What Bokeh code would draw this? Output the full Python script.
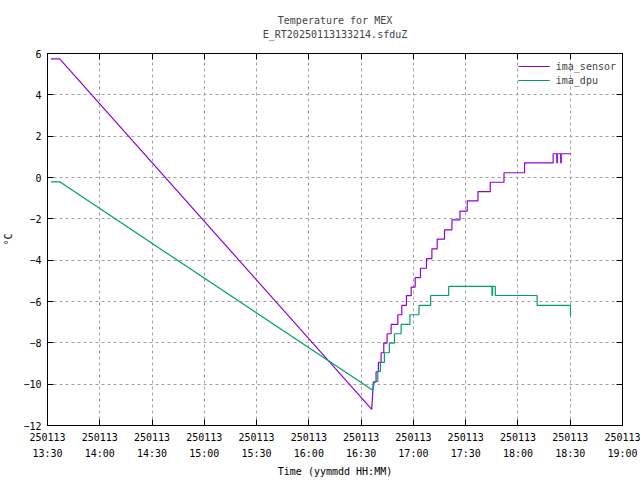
import pandas as pd
from bokeh.plotting import figure
from bokeh.models import (FixedTicker, DatetimeTickFormatter, Range1d, Title,
                          DatetimeAxis, LinearAxis, Legend, LegendItem,
                          CustomLabelingPolicy)
from bokeh.embed import file_html
from bokeh.resources import INLINE

DAY = "2025-01-13 "

# ima_sensor: first N_LINEAR points joined by straight lines, the rest are steps
sensor_times = ["13:32:00", "13:37:00", "16:36:06", "16:37:00", "16:38:34",
                "16:39:54", "16:41:27", "16:43:00", "16:44:54", "16:47:12",
                "16:51:03", "16:53:21", "16:56:00", "16:58:42", "17:01:00",
                "17:04:03", "17:07:30", "17:10:36", "17:13:39", "17:17:51",
                "17:22:06", "17:26:42", "17:30:54", "17:37:03", "17:44:06",
                "17:52:00", "18:03:48", "18:20:12", "18:22:18", "18:22:36",
                "18:24:32", "18:24:50"]
sensor_values = [5.74, 5.74, -11.22, -9.90, -9.40,
                 -8.95, -8.48, -8.01, -7.56, -7.11,
                 -6.64, -6.19, -5.72, -5.30, -4.84,
                 -4.39, -3.93, -3.45, -2.98, -2.53,
                 -2.05, -1.63, -1.13, -0.68, -0.23,
                 0.23, 0.71, 1.15, 0.71, 1.15,
                 0.71, 1.15]

dpu_times = ["13:32:00", "13:37:00", "16:36:42", "16:37:36", "16:39:33",
             "16:41:03", "16:43:21", "16:46:12", "16:49:06", "16:52:57",
             "16:58:00", "17:03:12", "17:09:54", "17:20:15", "17:45:06",
             "17:45:27", "17:47:00", "18:11:00", "18:30:08"]
dpu_values = [-0.21, -0.21, -10.30, -9.87, -9.38,
              -8.95, -8.48, -8.01, -7.56, -7.11,
              -6.64, -6.19, -5.71, -5.27, -5.71,
              -5.27, -5.71, -6.19, -6.68]

N_LINEAR = 4
END_TIME = "18:30:18"

x_tick_times = ["13:30", "14:00", "14:30", "15:00", "15:30", "16:00",
                "16:30", "17:00", "17:30", "18:00", "18:30", "19:00"]
y_ticks = [-12, -10, -8, -6, -4, -2, 0, 2, 4, 6]

TITLE = "Temperature for MEX"
SUBTITLE = "E_RT20250113133214.sfduZ"

FONT = "DejaVu Sans Mono"
FS = "10px"


def ts(t):
    return pd.Timestamp(DAY + t)


def expand(times, values, n_linear, end):
    t = [ts(x) for x in times]
    xs, ys = [], []
    for i in range(n_linear):
        xs.append(t[i]); ys.append(values[i])
    for i in range(n_linear, len(t)):
        xs.append(t[i]); ys.append(values[i - 1])
        xs.append(t[i]); ys.append(values[i])
    xs.append(ts(end)); ys.append(values[-1])
    return xs, ys


sx, sy = expand(sensor_times, sensor_values, N_LINEAR, END_TIME)
dx, dy = expand(dpu_times, dpu_values, N_LINEAR, END_TIME)

x_ticks_ms = [ts(t + ":00").value / 1e6 for t in x_tick_times]

p = figure(width=640, height=480, output_backend="svg", toolbar_location=None,
           x_axis_type="datetime", title=None,
           x_range=Range1d(ts("13:30:00"), ts("19:00:00")),
           y_range=Range1d(y_ticks[0], y_ticks[-1]),
           min_border_left=47, min_border_right=18,
           min_border_top=53, min_border_bottom=55)
p.background_fill_color = "white"
p.border_fill_color = "white"
p.outline_line_color = "black"
p.outline_line_width = 1

fmt = "%y%m%d\n%H:%M"
formatter = DatetimeTickFormatter(minutes=fmt, hours=fmt, hourmin=fmt,
                                  days=fmt, context=None)

xt = FixedTicker(ticks=x_ticks_ms)
yt = FixedTicker(ticks=y_ticks)

xa = p.xaxis[0]
xa.ticker = xt
xa.formatter = formatter
xa.axis_label = "Time (yymmdd HH:MM)"
ya = p.yaxis[0]
ya.ticker = yt
ya.axis_label = "°C"

for ax in (xa, ya):
    ax.major_tick_in = 6
    ax.major_tick_out = 0
    ax.minor_tick_in = 0
    ax.minor_tick_out = 0
    ax.major_tick_line_color = "black"
    ax.axis_line_color = "black"
    ax.major_label_text_font = FONT
    ax.major_label_text_font_size = FS
    ax.major_label_text_color = "black"
    ax.axis_label_text_font = FONT
    ax.axis_label_text_font_size = FS
    ax.axis_label_text_font_style = "normal"
    ax.axis_label_text_color = "black"
xa.major_label_text_line_height = 1.5
xa.major_label_standoff = 6
xa.axis_label_standoff = 4
ya.major_label_standoff = 6
ya.axis_label_standoff = 6

# mirrored ticks on top and right, with no tick labels drawn
# (the blank top-axis label only adds spacing)
no_labels = CustomLabelingPolicy(code="return new Set()")
top = DatetimeAxis(ticker=xt, major_tick_in=6, major_tick_out=0,
                   minor_tick_in=0, minor_tick_out=0,
                   major_label_policy=no_labels,
                   major_label_text_font_size="0px", major_label_standoff=0,
                   axis_label=" ", axis_label_text_font_size="8px",
                   axis_label_standoff=0)
right = LinearAxis(ticker=yt, major_tick_in=6, major_tick_out=0,
                   minor_tick_in=0, minor_tick_out=0,
                   major_label_policy=no_labels,
                   major_label_text_font_size="0px", major_label_standoff=0)
p.add_layout(top, "above")
p.add_layout(right, "right")

p.add_layout(Title(text=SUBTITLE, align="center",
                   text_font=FONT, text_font_size=FS,
                   text_font_style="normal", standoff=3), "above")
p.add_layout(Title(text=TITLE, align="center",
                   text_font=FONT, text_font_size=FS,
                   text_font_style="normal", standoff=0), "above")

for g in (p.xgrid[0], p.ygrid[0]):
    g.grid_line_color = "#a0a0a0"
    g.grid_line_dash = "3 3"
    g.grid_line_width = 1
p.xgrid[0].ticker = xt
p.ygrid[0].ticker = yt

r1 = p.line(sx, sy, line_color="#9400d3", line_width=1.2)
r2 = p.line(dx, dy, line_color="#009e73", line_width=1.2)

legend = Legend(items=[LegendItem(label="ima_sensor", renderers=[r1]),
                       LegendItem(label="ima_dpu", renderers=[r2])],
                location="top_right")
legend.label_text_font = FONT
legend.label_text_font_size = FS
legend.background_fill_alpha = 0
legend.border_line_alpha = 0
legend.margin = 2
legend.padding = 4
legend.spacing = 0
legend.label_height = 14
legend.glyph_height = 14
legend.glyph_width = 32
legend.label_standoff = 6
p.add_layout(legend)

open("out.html", "w").write(file_html(p, INLINE))
